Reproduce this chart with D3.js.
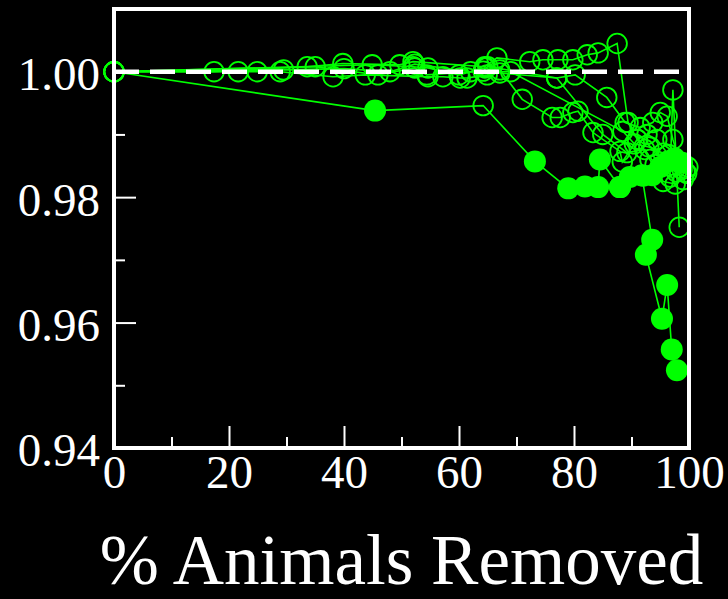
<!DOCTYPE html>
<html><head><meta charset="utf-8">
<script src="https://cdn.jsdelivr.net/npm/d3@7/dist/d3.min.js"></script>
<style>
html,body{margin:0;padding:0;background:#000;}
svg{display:block;}
</style></head>
<body>
<svg id="chart" width="728" height="599"></svg>
<script>
// ---- data ----
const X_TICKS = [0, 20, 40, 60, 80, 100];
const X_MINOR = [10, 30, 50, 70, 90];
const Y_TICKS = [0.94, 0.96, 0.98, 1.00];
const Y_MINOR = [0.95, 0.97, 0.99];
const X_LABEL = "% Animals Removed";

const openSeries1 = [[0,1.0],[17.4,1.0],[33.6,1.0008],[39.8,1.0013],[49.7,1.0011],[52.0,1.0016],[64.5,1.0008],[66.6,1.0022],[72.3,1.0016],[74.6,1.0019],[77.2,1.0019],[79.8,1.0019],[82.3,1.0027],[84.2,1.003],[87.5,1.0045],[89.4,0.9919],[91.0,0.9892],[93.2,0.9860],[95.5,0.9825],[97.6,0.9821],[99.3,0.9840]];
const openSeries2 = [[0,1.0],[21.6,1.0],[24.9,1.0],[28.9,1.0],[38.1,0.9992],[43.7,0.9995],[54.6,0.9992],[57.2,0.9992],[60.2,0.9990],[61.4,0.9990],[64.9,0.9995],[67.1,1.0003],[71.0,0.9956],[76.2,0.9927],[77.6,0.9927],[79.8,0.9935],[80.7,0.9937],[83.3,0.9903],[88.0,0.9873],[88.4,0.9856],[91.0,0.9892],[92.7,0.9900],[94.4,0.9892],[96.4,0.9868],[98.1,0.9856],[99.8,0.9848]];
const openSeries3 = [[0,1.0],[35.0,1.0008],[45.9,0.9995],[52.3,1.0006],[54.4,0.9995],[64.2,1.0001],[65.0,1.0008],[77.0,0.9990],[80.2,0.9995],[85.7,0.9959],[88.9,0.9919],[91.5,0.9911],[93.7,0.9919],[95.0,0.9935],[96.2,0.9929],[97.2,0.9892],[98.8,0.9844]];
const openSeries4 = [[0,1.0],[44.9,1.0011],[52.0,1.0008],[54.6,1.0006],[60.0,0.9995],[64.5,1.0006],[67.1,0.9998],[77.0,0.9990],[85.0,0.9900],[89.2,0.9871],[92.3,0.9876],[94.1,0.9852],[96.7,0.9832],[97.2,0.9971],[98.3,0.9752]];
const openSeries5 = [[0,1.0],[29.5,1.0003],[40.0,1.0005],[48.0,1.0],[52.3,1.0012],[62.0,1.0],[69.0,1.0],[88.5,0.9905],[90.5,0.9885],[93.0,0.9880],[95.5,0.9870],[97.8,0.9840],[99.0,0.9828],[99.6,0.9838]];
const filledSeriesA = [[0,1.0],[45.4,0.9938],[64.2,0.9946],[73.2,0.9857],[79.0,0.9814],[81.9,0.9817],[84.2,0.9816],[84.5,0.9860],[88.0,0.9816],[91.8,0.9835],[93.6,0.9732],[92.5,0.9708],[95.3,0.9606],[96.2,0.9660],[97.0,0.9557],[97.9,0.9524]];
const filledSeriesAHollow = [0, 2];
const filledSeriesB = [[88.0,0.9816],[89.7,0.9832],[92.0,0.9834],[93.6,0.9835],[95.0,0.9848],[96.3,0.9857],[97.5,0.9862],[98.8,0.9855]];
const referenceLevel = 1.0;

// ---- chart ----
const GREEN = "#00ff00";
const FONT = "'Liberation Serif','Times New Roman',serif";
const svg = d3.select("#chart");
svg.append("rect").attr("width",728).attr("height",599).attr("fill","#000");

const x = d3.scaleLinear().domain([0,100]).range([114,689]);
const y = d3.scaleLinear().domain([0.94,1.01]).range([448,9]);

const line = d3.line().x(d=>x(d[0])).y(d=>y(d[1]));

const openAll = [openSeries1, openSeries2, openSeries3, openSeries4, openSeries5];
const filledAll = [filledSeriesA, filledSeriesB];

const g = svg.append("g");
[...openAll, ...filledAll].forEach(s=>{
  g.append("path").attr("d", line(s)).attr("fill","none")
   .attr("stroke",GREEN).attr("stroke-width",1.6);
});

// dashed reference
svg.append("line")
  .attr("x1",x(0)).attr("x2",x(100)).attr("y1",y(referenceLevel)).attr("y2",y(referenceLevel))
  .attr("stroke","#fff").attr("stroke-width",4.5).attr("stroke-dasharray","25,11");

openAll.forEach(s=>{
  g.selectAll(null).data(s).enter().append("circle")
   .attr("cx",d=>x(d[0])).attr("cy",d=>y(d[1])).attr("r",9.8)
   .attr("fill","none").attr("stroke",GREEN).attr("stroke-width",1.8);
});
filledAll.forEach((s,si)=>{
  g.selectAll(null).data(s).enter().append("circle")
   .attr("cx",d=>x(d[0])).attr("cy",d=>y(d[1]))
   .attr("r",(d,i)=> (si===0 && filledSeriesAHollow.includes(i)) ? 9.8 : 11)
   .attr("fill",(d,i)=> (si===0 && filledSeriesAHollow.includes(i)) ? "none" : GREEN)
   .attr("stroke",GREEN).attr("stroke-width",(d,i)=> (si===0 && filledSeriesAHollow.includes(i)) ? 1.8 : 0);
});

// axes
function styleAxis(sel, fs){
  sel.select(".domain").remove();
  sel.selectAll(".tick line").attr("stroke","#fff").attr("stroke-width",2);
  sel.selectAll(".tick text").attr("fill","#fff").style("font-family",FONT).style("font-size",fs+"px");
}
const xAxis = svg.append("g").attr("transform","translate(0,448)")
  .call(d3.axisBottom(x).tickValues(X_TICKS).tickSize(-22).tickPadding(7).tickFormat(d3.format("d")));
styleAxis(xAxis, 47);
const xMinor = svg.append("g").attr("transform","translate(0,448)")
  .call(d3.axisBottom(x).tickValues(X_MINOR).tickSize(-11).tickFormat(""));
styleAxis(xMinor, 47);

const yAxis = svg.append("g").attr("transform","translate(114,0)")
  .call(d3.axisLeft(y).tickValues(Y_TICKS).tickSize(-22).tickPadding(14).tickFormat(d3.format(".2f")));
styleAxis(yAxis, 47);
yAxis.selectAll(".tick text").attr("dy","0.38em");
const yMinor = svg.append("g").attr("transform","translate(114,0)")
  .call(d3.axisLeft(y).tickValues(Y_MINOR).tickSize(-11).tickFormat(""));
styleAxis(yMinor, 47);

// frame
svg.append("rect").attr("x",x(0)).attr("y",y(1.01)).attr("width",x(100)-x(0)).attr("height",y(0.94)-y(1.01))
  .attr("fill","none").attr("stroke","#fff").attr("stroke-width",4);

// x title
svg.append("text").attr("x",(x(0)+x(100))/2).attr("y",584).attr("text-anchor","middle")
  .attr("fill","#fff").style("font-family",FONT).style("font-size","71px").text(X_LABEL);
</script>
</body></html>
